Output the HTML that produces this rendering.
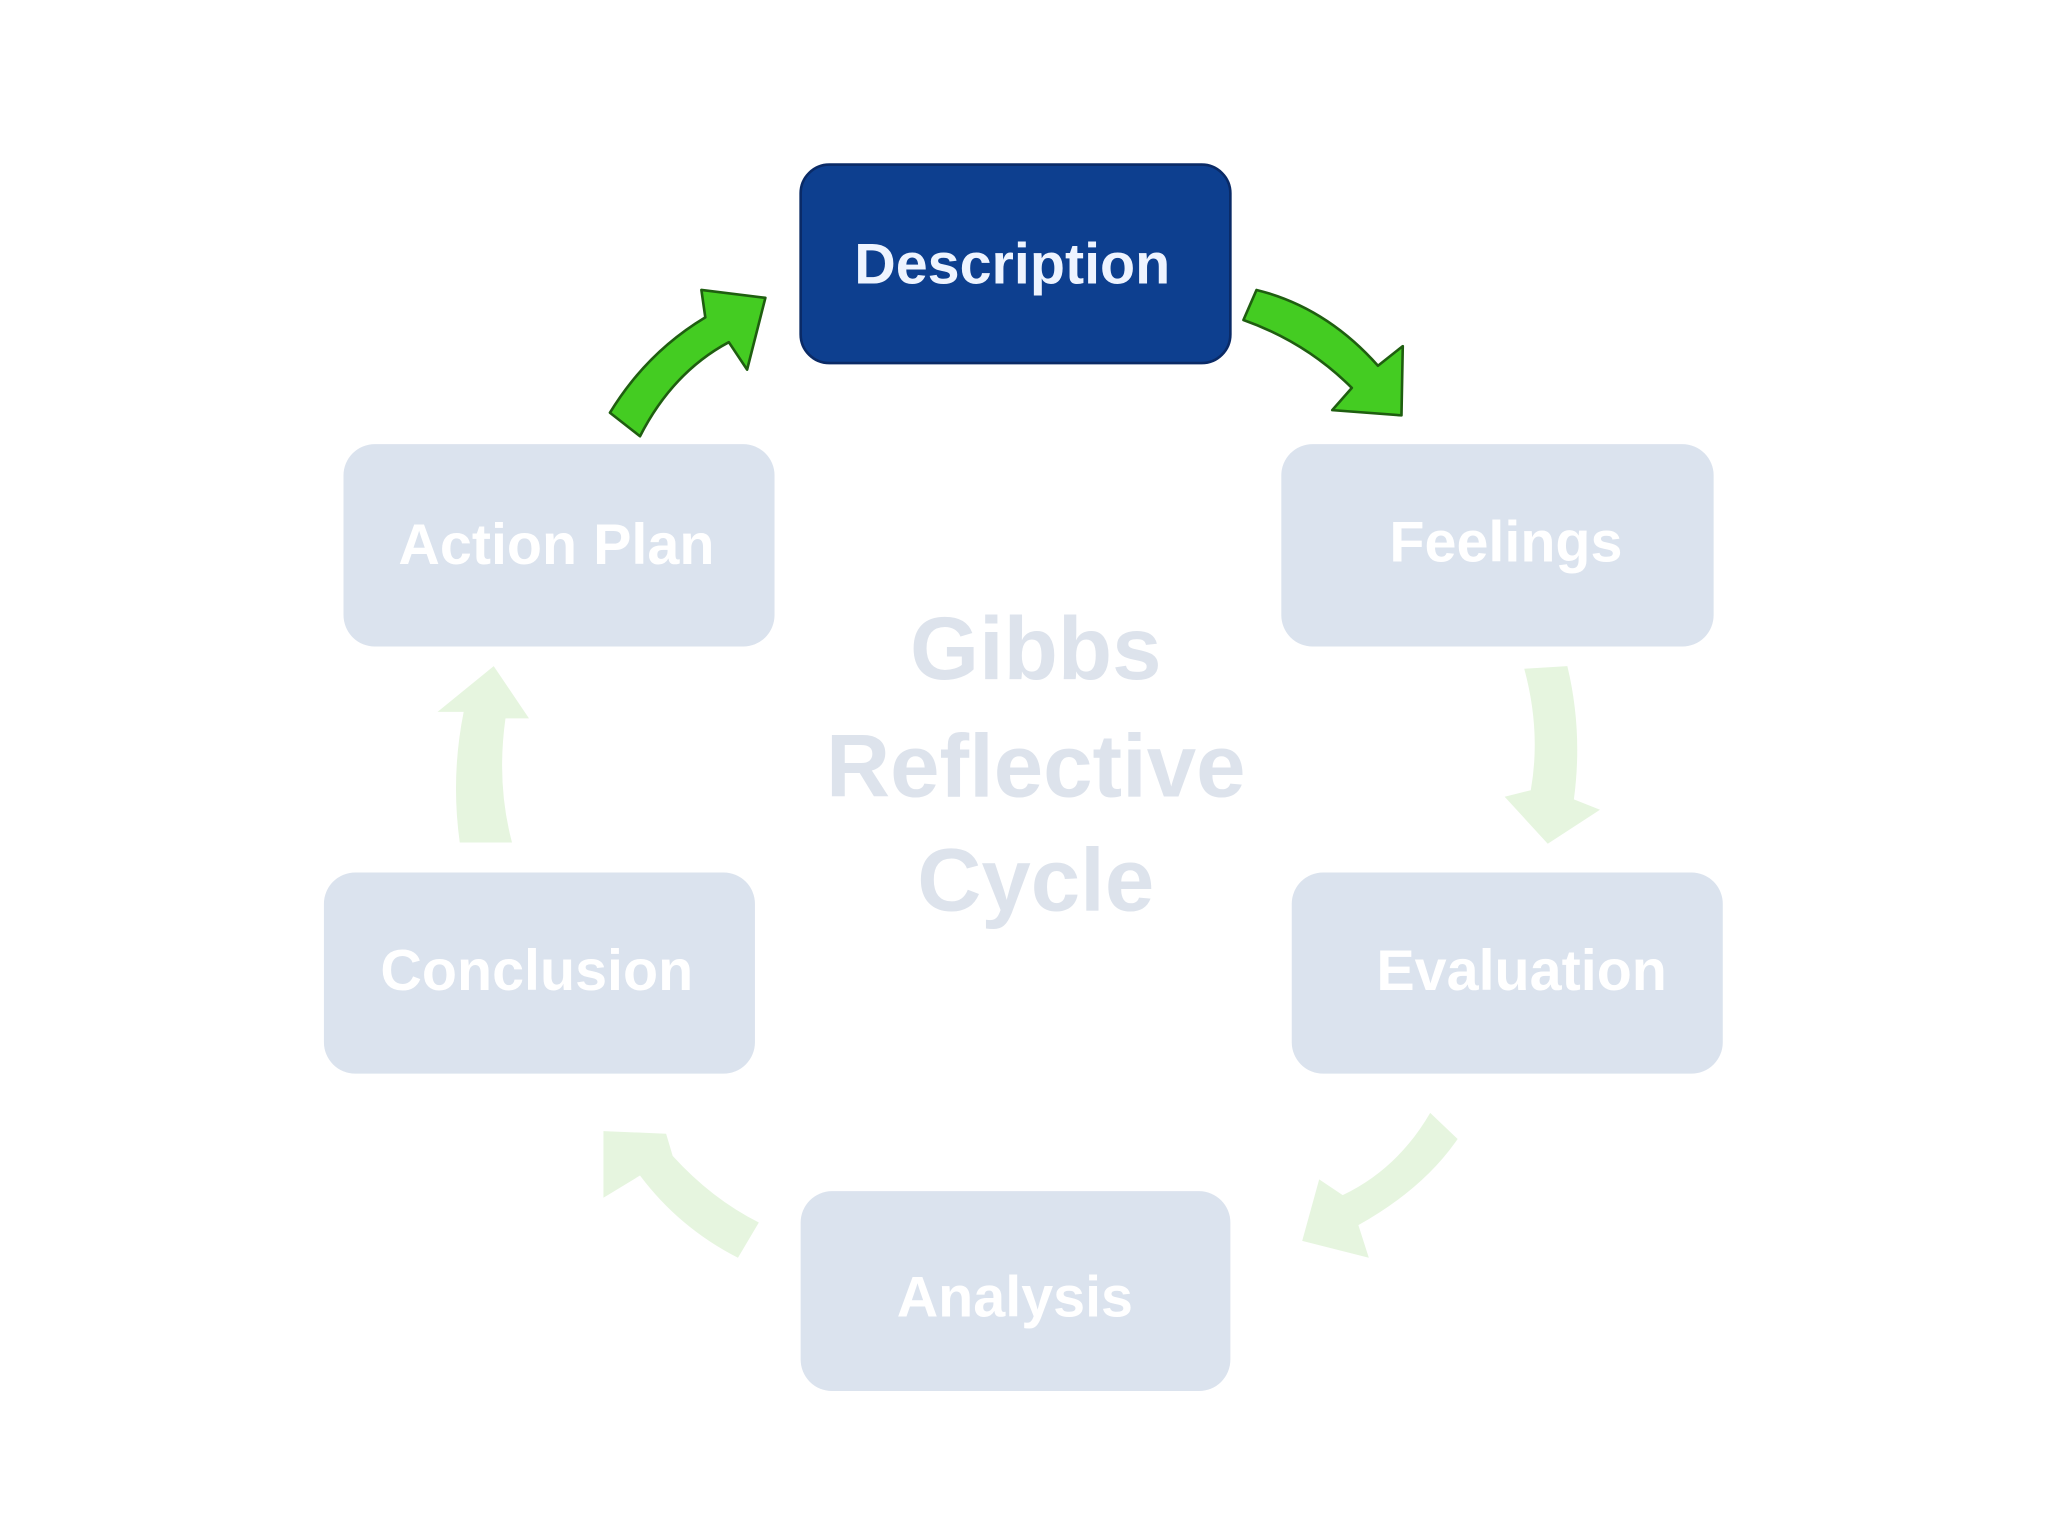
<!DOCTYPE html>
<html><head><meta charset="utf-8"><style>
html,body{margin:0;padding:0;background:#fff;}
svg{display:block;}
text{font-family:"Liberation Sans",Arial,sans-serif;font-weight:bold;text-anchor:middle;}
</style></head><body>
<svg width="2048" height="1536" viewBox="0 0 1568 1176" xmlns="http://www.w3.org/2000/svg">
<rect width="1568" height="1176" fill="#fff"/>
<!-- faded center title -->
<text x="793" y="520" font-size="68" fill="#dde3ec">Gibbs</text>
<text x="793" y="610" font-size="68" fill="#dde3ec">Reflective</text>
<text x="793" y="697" font-size="68" fill="#dde3ec">Cycle</text>
<!-- boxes -->
<rect x="613" y="126" width="329" height="152" rx="22" fill="#0d3f8f" stroke="#0a2a66" stroke-width="2"/>
<text x="775" y="217" font-size="44" fill="#eef4ff">Description</text>
<rect x="263" y="340" width="330" height="155" rx="24" fill="#dbe3ee"/>
<text x="426" y="432" font-size="44" fill="#fff">Action Plan</text>
<rect x="981" y="340" width="331" height="155" rx="24" fill="#dbe3ee"/>
<text x="1153" y="430" font-size="44" fill="#fff">Feelings</text>
<rect x="248" y="668" width="330" height="154" rx="24" fill="#dbe3ee"/>
<text x="411" y="758" font-size="44" fill="#fff">Conclusion</text>
<rect x="989" y="668" width="330" height="154" rx="24" fill="#dbe3ee"/>
<text x="1165" y="758" font-size="44" fill="#fff">Evaluation</text>
<rect x="613" y="912" width="329" height="153" rx="24" fill="#dbe3ee"/>
<text x="777" y="1008" font-size="44" fill="#fff">Analysis</text>
<!-- green arrows -->
<path d="M467,316 Q495,270 540,243 L537,222 L586,228 L572,283 L558,262 Q515,285 490,334 Z" fill="#44cc22" stroke="#1f5e10" stroke-width="2" stroke-linejoin="round"/>
<path d="M952,245 Q1000,262 1035,297 L1020,314 L1073,318 L1074,265 L1055,280 Q1015,235 962,222 Z" fill="#44cc22" stroke="#1f5e10" stroke-width="2" stroke-linejoin="round"/>
<!-- faded arrows -->
<path d="M1167,512 Q1180,560 1172,605 L1152,610 L1185,646 L1225,620 L1205,612 Q1212,560 1200,510 Z" fill="#e6f5df"/>
<path d="M1095,852 Q1070,895 1028,915 L1010,903 L997,950 L1048,963 L1040,938 Q1090,910 1116,872 Z" fill="#e6f5df"/>
<path d="M581,936 Q545,918 515,885 L510,868 L462,866 L462,917 L490,900 Q520,940 565,963 Z" fill="#e6f5df"/>
<path d="M352,645 Q345,595 355,545 L335,545 L378,510 L405,550 L387,550 Q380,600 392,645 Z" fill="#e6f5df"/>
</svg>
</body></html>
